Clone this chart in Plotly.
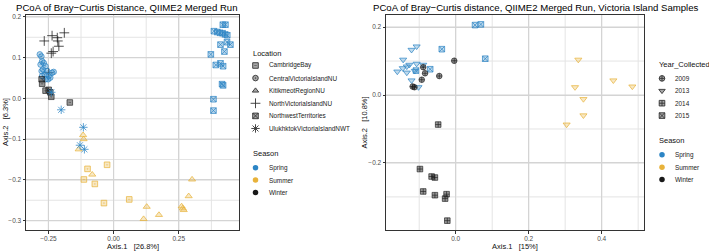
import plotly.graph_objects as go

W, H = 709, 251

# ---------------- data: left panel (all samples) ----------------
nvi_winter_x = [-0.266, -0.236, -0.216, -0.214, -0.189, -0.210, -0.239, -0.232, -0.249]
nvi_winter_y = [0.141, 0.154, 0.149, 0.141, 0.161, 0.128, 0.111, 0.115, 0.063]

cvi_spring_x = [-0.283, -0.277, -0.274, -0.268, -0.280, -0.261, -0.271, -0.276, -0.255, -0.264,
                -0.249, -0.236, -0.230, -0.261, -0.251, -0.243, -0.274]
cvi_spring_y = [0.108, 0.103, 0.091, 0.087, 0.083, 0.079, 0.071, 0.067, 0.067, 0.059,
                0.055, 0.063, 0.065, 0.047, 0.047, 0.051, 0.055]

cb_winter_x = [-0.276, -0.274, -0.261, -0.249, -0.243, -0.239, -0.168]
cb_winter_y = [0.047, 0.036, 0.019, 0.021, 0.015, 0.004, -0.010]

cb_summer_x = [-0.025, -0.100, -0.114, -0.072, -0.037, 0.060]
cb_summer_y = [-0.163, -0.173, -0.199, -0.210, -0.257, -0.248]

kit_summer_x = [-0.117, -0.115, -0.134, -0.082, 0.127, 0.115, 0.174, 0.261, 0.265, 0.269, 0.288, 0.301]
kit_summer_y = [-0.090, -0.100, -0.125, -0.187, -0.266, -0.296, -0.286, -0.265, -0.270, -0.274, -0.240, -0.199]

ulu_spring_x = [-0.239, -0.201, -0.116, -0.129, -0.112]
ulu_spring_y = [0.015, -0.028, -0.071, -0.115, -0.125]

nwt_spring_x = [0.419, 0.429, 0.385, 0.398, 0.408, 0.418, 0.428, 0.436, 0.410, 0.435, 0.448,
                0.425, 0.373, 0.392, 0.410, 0.420, 0.416, 0.420, 0.383, 0.383]
nwt_spring_y = [0.181, 0.181, 0.165, 0.163, 0.161, 0.160, 0.157, 0.155, 0.132, 0.138, 0.132,
                0.115, 0.108, 0.082, 0.086, 0.079, 0.035, 0.032, -0.002, -0.030]

# ---------------- data: right panel (Victoria Island) ----------------
y2015_spring_x = [0.053, 0.069, 0.081, -0.038, -0.070, -0.109]
y2015_spring_y = [0.206, 0.208, 0.107, 0.135, 0.076, 0.072]

y2013_spring_x = [-0.160, -0.145, -0.144, -0.134, -0.127, -0.121, -0.107, -0.134, -0.107,
                  -0.089, -0.121, -0.102, -0.112]
y2013_spring_y = [0.069, 0.079, 0.104, 0.084, 0.089, 0.133, 0.143, 0.066, 0.092,
                  0.089, 0.043, 0.023, 0.071]

y2009_winter_x = [-0.089, -0.084, -0.093, -0.045, -0.004, -0.118, -0.113]
y2009_winter_y = [0.082, 0.064, 0.045, 0.056, 0.101, 0.025, 0.023]

y2014_winter_x = [-0.048, -0.098, -0.066, -0.057, -0.089, -0.057, -0.025, -0.029, -0.023]
y2014_winter_y = [-0.087, -0.218, -0.240, -0.243, -0.284, -0.295, -0.292, -0.305, -0.370]

y2013_summer_x = [0.336, 0.432, 0.484, 0.327, 0.350, 0.350, 0.304]
y2013_summer_y = [0.104, 0.043, 0.025, 0.023, -0.012, -0.060, -0.087]

# ---------------- tick / grid values ----------------
left_x_major = [-0.25, 0.0, 0.25]
left_x_minor = [-0.125, 0.125, 0.375]
left_y_major = [-0.3, -0.2, -0.1, 0.0, 0.1, 0.2]
left_y_minor = [-0.25, -0.15, -0.05, 0.05, 0.15]
right_x_major = [0.0, 0.2, 0.4]
right_x_minor = [-0.1, 0.1, 0.3, 0.5]
right_y_major = [-0.2, 0.0, 0.2]
right_y_minor = [-0.3, -0.1, 0.1]

# ---------------- labels ----------------
location_labels = ["CambridgeBay", "CentralVictoriaIslandNU", "KitikmeotRegionNU",
                   "NorthVictoriaIslandNU", "NorthwestTerritories", "UlukhktokVictoriaIslandNWT"]
season_labels = ["Spring", "Summer", "Winter"]
year_labels = ["2009", "2013", "2014", "2015"]

title_left = "PCoA of Bray\u2212Curtis Distance, QIIME2 Merged Run"
title_right = "PCoA of Bray\u2212Curtis distance, QIIME2 Merged Run, Victoria Island Samples"
xlab_left = "Axis.1\u00a0\u00a0\u00a0[26.8%]"
ylab_left = "Axis.2\u00a0\u00a0\u00a0[6.3%]"
xlab_right = "Axis.1\u00a0\u00a0\u00a0[15%]"
ylab_right = "Axis.2\u00a0\u00a0\u00a0[10.8%]"

# ---------------- styles ----------------
season_color = {"Spring": (44, 133, 197), "Summer": (232, 178, 58), "Winter": (25, 25, 25)}
location_symbol = {
    "CambridgeBay": "square-dot",
    "CentralVictoriaIslandNU": "circle-dot",
    "KitikmeotRegionNU": "triangle-up",
    "NorthVictoriaIslandNU": "cross-thin",
    "NorthwestTerritories": "square-x",
    "UlukhktokVictoriaIslandNWT": "asterisk",
}
year_symbol = {"2009": "circle-cross", "2013": "triangle-down", "2014": "square-cross", "2015": "square-x"}
LINE_ONLY = {"cross-thin", "asterisk"}


def rgba(c, a):
    return "rgba(%d,%d,%d,%.2f)" % (c[0], c[1], c[2], a)


def marker(symbol, season, size=5.6):
    c = season_color[season]
    if symbol in LINE_ONLY:
        return dict(symbol=symbol, size=size + 1.4, color=rgba(c, 0.9),
                    line=dict(color=rgba(c, 0.85), width=0.9))
    fill_a = 0.45 if season == "Winter" else 0.3
    line_a = 0.7 if season == "Winter" else 0.8
    if symbol.startswith("triangle"):
        size += 0.6
    return dict(symbol=symbol, size=size, color=rgba(c, fill_a),
                line=dict(color=rgba(c, line_a), width=0.9))


fig = go.Figure()

left_groups = [
    ("NorthVictoriaIslandNU", "Winter", nvi_winter_x, nvi_winter_y),
    ("CentralVictoriaIslandNU", "Spring", cvi_spring_x, cvi_spring_y),
    ("CambridgeBay", "Winter", cb_winter_x, cb_winter_y),
    ("CambridgeBay", "Summer", cb_summer_x, cb_summer_y),
    ("KitikmeotRegionNU", "Summer", kit_summer_x, kit_summer_y),
    ("UlukhktokVictoriaIslandNWT", "Spring", ulu_spring_x, ulu_spring_y),
    ("NorthwestTerritories", "Spring", nwt_spring_x, nwt_spring_y),
]
for loc, season, xs, ys in left_groups:
    fig.add_trace(go.Scatter(x=xs, y=ys, mode="markers", xaxis="x", yaxis="y",
                             marker=marker(location_symbol[loc], season), showlegend=False))

right_groups = [
    ("2015", "Spring", y2015_spring_x, y2015_spring_y),
    ("2013", "Spring", y2013_spring_x, y2013_spring_y),
    ("2009", "Winter", y2009_winter_x, y2009_winter_y),
    ("2014", "Winter", y2014_winter_x, y2014_winter_y),
    ("2013", "Summer", y2013_summer_x, y2013_summer_y),
]
for yr, season, xs, ys in right_groups:
    fig.add_trace(go.Scatter(x=xs, y=ys, mode="markers", xaxis="x2", yaxis="y2",
                             marker=marker(year_symbol[yr], season), showlegend=False))

# ---------------- grid lines as shapes on the data axes ----------------
shapes = []
MAJOR_GRID = "#D4D4D4"
MINOR_GRID = "#E4E4E4"


def grid(xref, yref, xmaj, xmin, ymaj, ymin):
    for vals, col, w in ((xmin, MINOR_GRID, 1.0), (xmaj, MAJOR_GRID, 1.2)):
        for v in vals:
            shapes.append(dict(type="line", xref=xref, yref=yref + " domain", x0=v, x1=v, y0=0, y1=1,
                               line=dict(color=col, width=w), layer="below"))
    for vals, col, w in ((ymin, MINOR_GRID, 1.0), (ymaj, MAJOR_GRID, 1.2)):
        for v in vals:
            shapes.append(dict(type="line", xref=xref + " domain", yref=yref, x0=0, x1=1, y0=v, y1=v,
                               line=dict(color=col, width=w), layer="below"))


grid("x", "y", left_x_major, left_x_minor, left_y_major, left_y_minor)
grid("x2", "y2", right_x_major, right_x_minor, right_y_major, right_y_minor)

# ---------------- hand-built legends (each in its own small, non-overlapping axis) ----------------
FONT = "Liberation Sans, Arial, Helvetica, sans-serif"
annotations = []


def legend_block(ax, key_x, text_x, title, title_y, labels, start_y, step, kind):
    xr, yr_ = "x" + ax, "y" + ax
    annotations.append(dict(xref=xr, yref=yr_, x=text_x - 16, y=title_y, text=title,
                            showarrow=False, xanchor="left", yanchor="middle",
                            font=dict(family=FONT, size=7.5, color="#111111")))
    ys = [start_y + i * step for i in range(len(labels))]
    for lab, yy in zip(labels, ys):
        if kind == "season":
            mk = dict(symbol="circle", size=5.5, color=rgba(season_color[lab], 1.0),
                      line=dict(width=0))
        else:
            sym = location_symbol[lab] if kind == "loc" else year_symbol[lab]
            if sym in LINE_ONLY:
                mk = dict(symbol=sym, size=7, color="#333", line=dict(color="#333", width=0.9))
            else:
                mk = dict(symbol=sym, size=5.6, color="rgba(60,60,60,0.45)",
                          line=dict(color="#333", width=0.9))
        fig.add_trace(go.Scatter(x=[key_x], y=[yy], mode="markers", xaxis=xr, yaxis=yr_,
                                 marker=mk, showlegend=False, hoverinfo="skip"))
        annotations.append(dict(xref=xr, yref=yr_, x=text_x, y=yy, text=lab,
                                showarrow=False, xanchor="left", yanchor="middle",
                                font=dict(family=FONT, size=6.4, color="#222222")))


legend_block("3", 255.5, 267, "Location", 52, location_labels, 64, 12.7, "loc")
legend_block("3", 255.5, 267, "Season", 153, season_labels, 167, 12.5, "season")
legend_block("4", 662, 673, "Year_Collected", 63.5, year_labels, 77, 12.5, "year")
legend_block("4", 662, 673, "Season", 140, season_labels, 154, 12.5, "season")

# titles
annotations += [
    dict(xref="paper", yref="paper", x=14 / W, y=1 - 5.5 / H, text=title_left, showarrow=False,
         xanchor="left", yanchor="middle", font=dict(family=FONT, size=9.6, color="#000")),
    dict(xref="paper", yref="paper", x=371 / W, y=1 - 5.5 / H, text=title_right, showarrow=False,
         xanchor="left", yanchor="middle", font=dict(family=FONT, size=9.6, color="#000")),
    dict(xref="paper", yref="paper", x=132.5 / W, y=1 - 246.5 / H, text=xlab_left, showarrow=False,
         xanchor="center", yanchor="middle", font=dict(family=FONT, size=7.5, color="#111")),
    dict(xref="paper", yref="paper", x=515 / W, y=1 - 246.5 / H, text=xlab_right, showarrow=False,
         xanchor="center", yanchor="middle", font=dict(family=FONT, size=7.5, color="#111")),
    dict(xref="paper", yref="paper", x=5.5 / W, y=1 - 121.5 / H, text=ylab_left, showarrow=False,
         textangle=-90, xanchor="center", yanchor="middle", font=dict(family=FONT, size=7.5, color="#111")),
    dict(xref="paper", yref="paper", x=365 / W, y=1 - 121.5 / H, text=ylab_right, showarrow=False,
         textangle=-90, xanchor="center", yanchor="middle", font=dict(family=FONT, size=7.5, color="#111")),
]

ydom = [1 - 230 / H, 1 - 13 / H]
tickfont = dict(family=FONT, size=6.5, color="#4D4D4D")


def axis(domain, rng, major, fmt, anchor):
    return dict(domain=domain, range=rng, tickmode="array", tickvals=major, tickformat=fmt,
                showgrid=True, gridcolor=MAJOR_GRID, gridwidth=1.2,
                zeroline=False, showline=True, mirror=True, linecolor="#333333", linewidth=1,
                ticks="outside", ticklen=2.5, tickwidth=0.8, tickcolor="#333333",
                tickfont=tickfont, anchor=anchor, fixedrange=True)


hidden = dict(visible=False, showgrid=False, zeroline=False, fixedrange=True)
fig.update_layout(
    width=W, height=H, margin=dict(l=0, r=0, t=0, b=0),
    paper_bgcolor="white", plot_bgcolor="white", showlegend=False,
    xaxis=axis([26 / W, 239 / W], [-0.336, 0.481], left_x_major, ".2f", "y"),
    yaxis=axis(ydom, [-0.3235, 0.205], left_y_major, ".1f", "x"),
    xaxis2=axis([386 / W, 644 / W], [-0.191, 0.516], right_x_major, ".1f", "y2"),
    yaxis2=axis(ydom, [-0.398, 0.236], right_y_major, ".1f", "x2"),
    xaxis3=dict(domain=[245 / W, 362 / W], range=[245, 362], anchor="y3", **hidden),
    yaxis3=dict(domain=[0, 1], range=[H, 0], anchor="x3", **hidden),
    xaxis4=dict(domain=[648 / W, 1], range=[648, W], anchor="y4", **hidden),
    yaxis4=dict(domain=[0, 1], range=[H, 0], anchor="x4", **hidden),
    shapes=shapes,
    annotations=annotations,
    font=dict(family=FONT),
    hovermode=False,
)

fig.write_html("out.html", config={"displayModeBar": False},
               post_script="document.body.style.margin='0';document.body.style.padding='0';")
